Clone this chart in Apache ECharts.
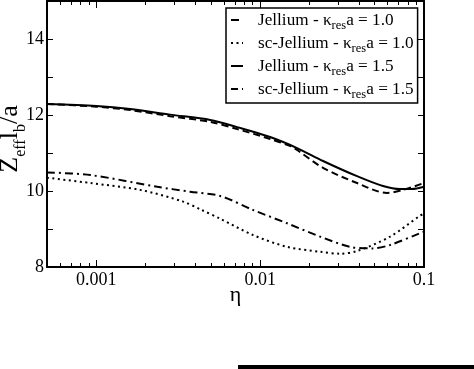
<!DOCTYPE html>
<html>
<head>
<meta charset="utf-8">
<script src="https://cdn.jsdelivr.net/npm/echarts@6/dist/echarts.min.js"></script>
<style>html,body{margin:0;padding:0;background:#fff}#c{width:474px;height:369px}</style>
</head>
<body>
<div id="c"></div>
<script>
// eta values and Z_eff l_b / a values
const jel10Eta = [0.0005, 0.00092, 0.00236, 0.00374, 0.0057, 0.00906, 0.0146, 0.0232, 0.0354, 0.0489, 0.0621, 0.0946, 0.1];
const jel10Val = [10.49, 10.42, 10.11, 9.98, 9.87, 9.50, 9.15, 8.80, 8.53, 8.49, 8.58, 8.89, 8.93];

const sc10Eta = [0.0005, 0.00092, 0.00185, 0.00339, 0.0043, 0.0057, 0.00906, 0.0146, 0.0232, 0.0308, 0.039, 0.0621, 0.0946, 0.1];
const sc10Val = [10.35, 10.21, 10.03, 9.72, 9.52, 9.27, 8.84, 8.53, 8.40, 8.35, 8.42, 8.80, 9.35, 9.40];

const jel15Eta = [0.0005, 0.001, 0.00161, 0.00282, 0.00496, 0.00724, 0.0115, 0.0168, 0.0242, 0.039, 0.0562, 0.0714, 0.0843, 0.1];
const jel15Val = [12.29, 12.24, 12.16, 12.01, 11.87, 11.68, 11.42, 11.13, 10.79, 10.39, 10.13, 10.05, 10.05, 10.11];

const sc15Eta = [0.0005, 0.001, 0.00161, 0.00282, 0.00496, 0.00724, 0.0115, 0.0153, 0.0168, 0.0242, 0.039, 0.0594, 0.0745, 0.1];
const sc15Val = [12.29, 12.22, 12.13, 11.97, 11.82, 11.63, 11.37, 11.18, 11.08, 10.61, 10.21, 9.95, 10.03, 10.21];

const seriesNames = ['Jellium - κ{sub|res}a = 1.0', 'sc-Jellium - κ{sub|res}a = 1.0', 'Jellium - κ{sub|res}a = 1.5', 'sc-Jellium - κ{sub|res}a = 1.5'];
const xLabelValues = [0.001, 0.01, 0.1];
const yLabelValues = [8, 10, 12, 14];

const pair = (xs, ys) => xs.map((x, i) => [x, ys[i]]);
const FONT = 'Liberation Serif';

const xBase = {
  type: 'log', logBase: 10, min: 0.0005, max: 0.1,
  axisLine: { show: true, onZero: false, lineStyle: { color: '#000', width: 2 } },
  axisTick: { show: true, inside: true, length: 7, lineStyle: { color: '#000', width: 1 } },
  minorTick: { show: true, splitNumber: 9, length: 4, lineStyle: { color: '#000', width: 1 } },
  splitLine: { show: false }, minorSplitLine: { show: false }
};
const yBase = {
  type: 'value', min: 8, max: 15, interval: 1,
  axisLine: { show: true, onZero: false, lineStyle: { color: '#000', width: 2 } },
  axisTick: { show: true, inside: true, length: 6, lineStyle: { color: '#000', width: 1 } },
  splitLine: { show: false }
};

const chart = echarts.init(document.getElementById('c'), null, { renderer: 'canvas' });
const mk = (name, data, type) => ({
  name, type: 'line', data, symbol: 'none', smooth: 0.3,
  lineStyle: { color: '#000', width: 2, type },
  itemStyle: { color: '#000' }
});
chart.setOption({
  animation: false,
  backgroundColor: '#fff',
  grid: { left: 47, right: 50, top: 1, bottom: 102, containLabel: false, outerBoundsMode: 'none' },
  xAxis: [
    Object.assign({}, xBase, {
      position: 'bottom',
      name: 'η', nameLocation: 'middle', nameGap: 17.5, nameMoveOverlap: false,
      nameTextStyle: { fontFamily: FONT, fontSize: 22, color: '#000' },
      axisLabel: {
        fontFamily: FONT, fontSize: 18, color: '#000', margin: 4,
        formatter: v => xLabelValues.some(t => Math.abs(t - v) / t < 1e-6) ? String(v) : ''
      }
    }),
    Object.assign({}, xBase, { position: 'top', axisLabel: { show: false } })
  ],
  yAxis: [
    Object.assign({}, yBase, {
      position: 'left',
      name: '{m|Z}{s|eff}{m|l}{s|b}{m|/a}', nameLocation: 'middle', nameGap: 18, nameRotate: 90, nameMoveOverlap: false,
      nameTextStyle: {
        color: '#000', fontFamily: FONT, padding: [0, 10, 0, 0],
        rich: {
          m: { fontFamily: FONT, fontSize: 26, color: '#000', lineHeight: 38, verticalAlign: 'middle' },
          s: { fontFamily: FONT, fontSize: 16, color: '#000', lineHeight: 14, verticalAlign: 'bottom' }
        }
      },
      axisLabel: {
        fontFamily: FONT, fontSize: 18, color: '#000', margin: 3,
        formatter: v => yLabelValues.indexOf(v) >= 0 ? String(v) : ''
      }
    }),
    Object.assign({}, yBase, { position: 'right', axisLabel: { show: false } })
  ],
  legend: {
    left: 226, top: 8, orient: 'vertical',
    padding: [0, 4, 2, 4], itemGap: -1,
    itemWidth: 12, itemHeight: 14,
    borderColor: '#000', borderWidth: 1.5, backgroundColor: '#fff',
    itemStyle: { color: 'rgba(0,0,0,0)', borderWidth: 0, opacity: 0 },
    data: seriesNames,
    textStyle: {
      fontFamily: FONT, fontSize: 17.2, color: '#000', lineHeight: 24, padding: [0, 0, 0, 10],
      rich: {
        sub: { fontFamily: FONT, fontSize: 12.5, color: '#000', lineHeight: 0.1, verticalAlign: 'bottom' }
      }
    }
  },
  series: [
    mk(seriesNames[0], pair(jel10Eta, jel10Val), [8, 4, 2, 4]),
    mk(seriesNames[1], pair(sc10Eta, sc10Val), [2, 3.5]),
    mk(seriesNames[2], pair(jel15Eta, jel15Val), 'solid'),
    mk(seriesNames[3], pair(sc15Eta, sc15Val), [7, 4])
  ],
  graphic: [
    { type: 'rect', shape: { x: 238, y: 365, width: 236, height: 4 }, style: { fill: '#000' } }
  ]
});
</script>
</body>
</html>
